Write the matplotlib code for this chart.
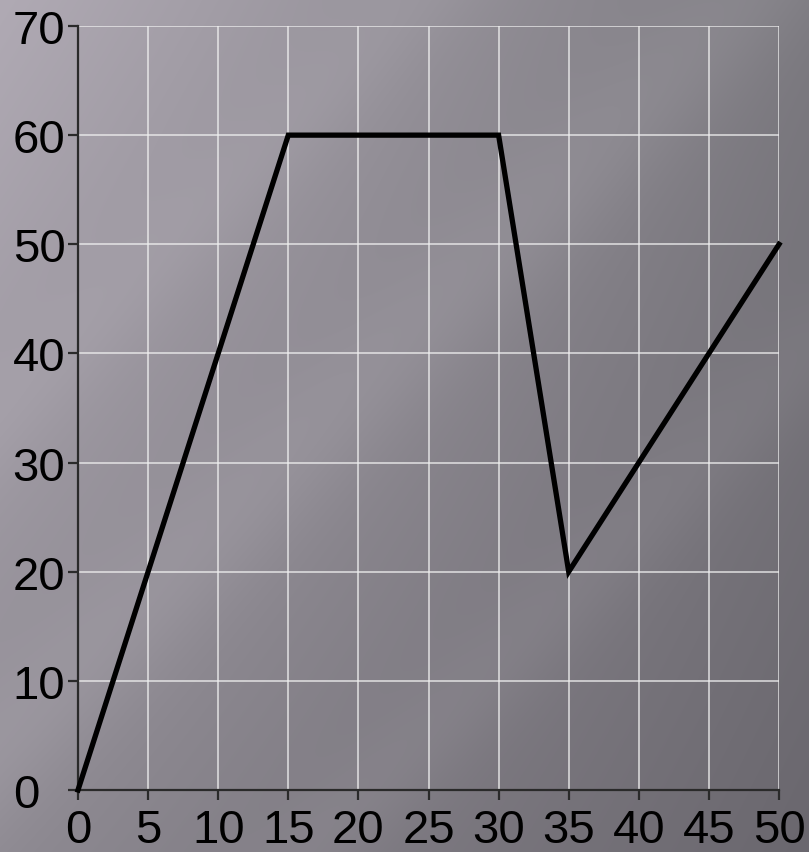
import numpy as np
import matplotlib
matplotlib.use("Agg")
import matplotlib.pyplot as plt

xs = [0, 15, 30, 35, 50]
ys = [0, 60, 60, 20, 50]
xticks = [0, 5, 10, 15, 20, 25, 30, 35, 40, 45, 50]
yticks = [0, 10, 20, 30, 40, 50, 60, 70]

plt.rcParams["font.family"] = ["Liberation Sans", "DejaVu Sans"]

W, H = 809, 853
fig = plt.figure(figsize=(W / 100, H / 100), dpi=100)

# background: bilinear grey gradient with a few soft diagonal streaks
u = np.linspace(0, 1, W)[None, :]
v = np.linspace(0, 1, H)[:, None]
tl = np.array([176, 170, 180])
tr = np.array([124, 122, 128])
bl = np.array([142, 138, 146])
br = np.array([106, 103, 110])
bg = ((1 - u)[..., None] * (1 - v)[..., None] * tl + u[..., None] * (1 - v)[..., None] * tr
      + (1 - u)[..., None] * v[..., None] * bl + u[..., None] * v[..., None] * br)
d = (u * W + v * H) / (W + H)
streak = 8 * np.exp(-((d - 0.45) / 0.05) ** 2) + 6 * np.exp(-((d - 0.7) / 0.04) ** 2) \
    + 5 * np.exp(-((d - 0.25) / 0.04) ** 2)
bg = np.clip(bg + streak[..., None], 0, 255) / 255
bgax = fig.add_axes([0, 0, 1, 1])
bgax.imshow(bg, aspect="auto", extent=[0, 1, 0, 1])
bgax.axis("off")

ax = fig.add_axes([78 / W, 62 / H, 701 / W, 764 / H])
ax.patch.set_alpha(0)
ax.plot(xs, ys, color="black", lw=3.8, solid_joinstyle="miter", clip_on=False, zorder=3)
ax.set_xlim(0, 50)
ax.set_ylim(0, 70)
ax.set_xticks(xticks)
ax.set_yticks(yticks)
ax.grid(True, color="#f0f0f0", lw=1.2, alpha=0.8)
ax.set_axisbelow(True)
for s in ["top", "right"]:
    ax.spines[s].set_visible(False)
for s in ["left", "bottom"]:
    ax.spines[s].set_color("#2a2a2a")
    ax.spines[s].set_linewidth(1.6)
ax.tick_params(direction="out", length=7, width=1.6, color="#2a2a2a",
               labelsize=34, labelcolor="black")
ax.tick_params(axis="x", pad=6)
# y labels are left aligned in the reference
ax.tick_params(axis="y", pad=40)
for lab in ax.get_yticklabels():
    lab.set_horizontalalignment("left")

fig.savefig("out.png", dpi=100)
